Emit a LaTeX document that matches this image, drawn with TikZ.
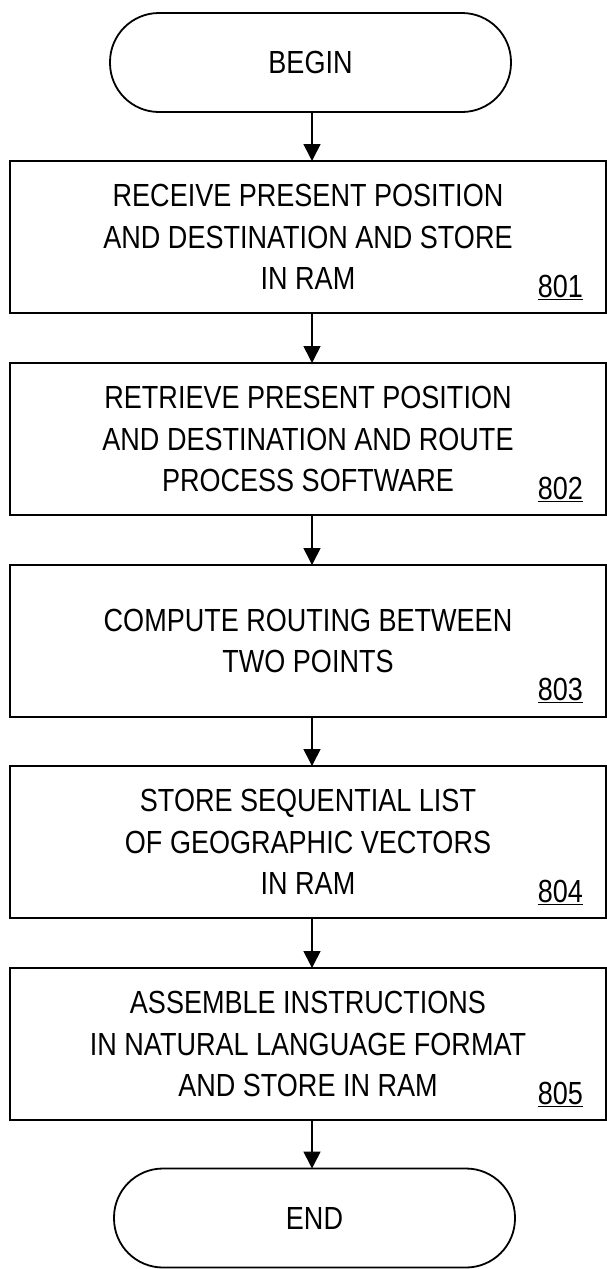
\documentclass[tikz,border=0pt]{standalone}
\usepackage{fontspec}
\setmainfont{Liberation Sans}[FakeStretch=0.845]
\usetikzlibrary{arrows.meta,calc}
\begin{document}
\begin{tikzpicture}[x=1pt,y=-1pt,
  every node/.style={inner sep=0pt,outer sep=0pt},
  txt/.style={font=\fontsize{32}{41.5}\selectfont},
  procbox/.style={draw,line width=1.8pt,minimum width=596pt,minimum height=152pt,align=center,txt},
  termbox/.style={draw,line width=1.8pt,minimum width=401pt,minimum height=99pt,rounded corners=49pt,txt},
  lab/.style={txt,anchor=base east},
  arr/.style={line width=1.6pt,-{Triangle[length=17pt,width=17pt]}}]
\useasboundingbox (0,0) rectangle (607,1269);
\coordinate (ax) at (312,0);
\node[termbox] (begin) at (310.5,62.5) {BEGIN};
\node[procbox] (b801) at (308,237) {RECEIVE PRESENT POSITION\\AND DESTINATION AND STORE\\IN RAM};
\node[procbox] (b802) at (308,439) {RETRIEVE PRESENT POSITION\\AND DESTINATION AND ROUTE\\PROCESS SOFTWARE};
\node[procbox] (b803) at (308,641) {COMPUTE ROUTING BETWEEN\\TWO POINTS};
\node[procbox] (b804) at (308,842) {STORE SEQUENTIAL LIST\\OF GEOGRAPHIC VECTORS\\IN RAM};
\node[procbox] (b805) at (308,1044) {ASSEMBLE INSTRUCTIONS\\IN NATURAL LANGUAGE FORMAT\\AND STORE IN RAM};
\node[termbox] (end) at (314.5,1218) {END};
\node[lab] (l801) at ($(b801.south east)+(-23,-16)$) {\underline{801}};
\node[lab] (l802) at ($(b802.south east)+(-23,-16)$) {\underline{802}};
\node[lab] (l803) at ($(b803.south east)+(-23,-17)$) {\underline{803}};
\node[lab] (l804) at ($(b804.south east)+(-23,-16)$) {\underline{804}};
\node[lab] (l805) at ($(b805.south east)+(-23,-16)$) {\underline{805}};
\draw[arr] (begin.south -| ax) -- (b801.north -| ax);
\draw[arr] (b801.south -| ax) -- (b802.north -| ax);
\draw[arr] (b802.south -| ax) -- (b803.north -| ax);
\draw[arr] (b803.south -| ax) -- (b804.north -| ax);
\draw[arr] (b804.south -| ax) -- (b805.north -| ax);
\draw[arr] (b805.south -| ax) -- (end.north -| ax);
\end{tikzpicture}
\end{document}
